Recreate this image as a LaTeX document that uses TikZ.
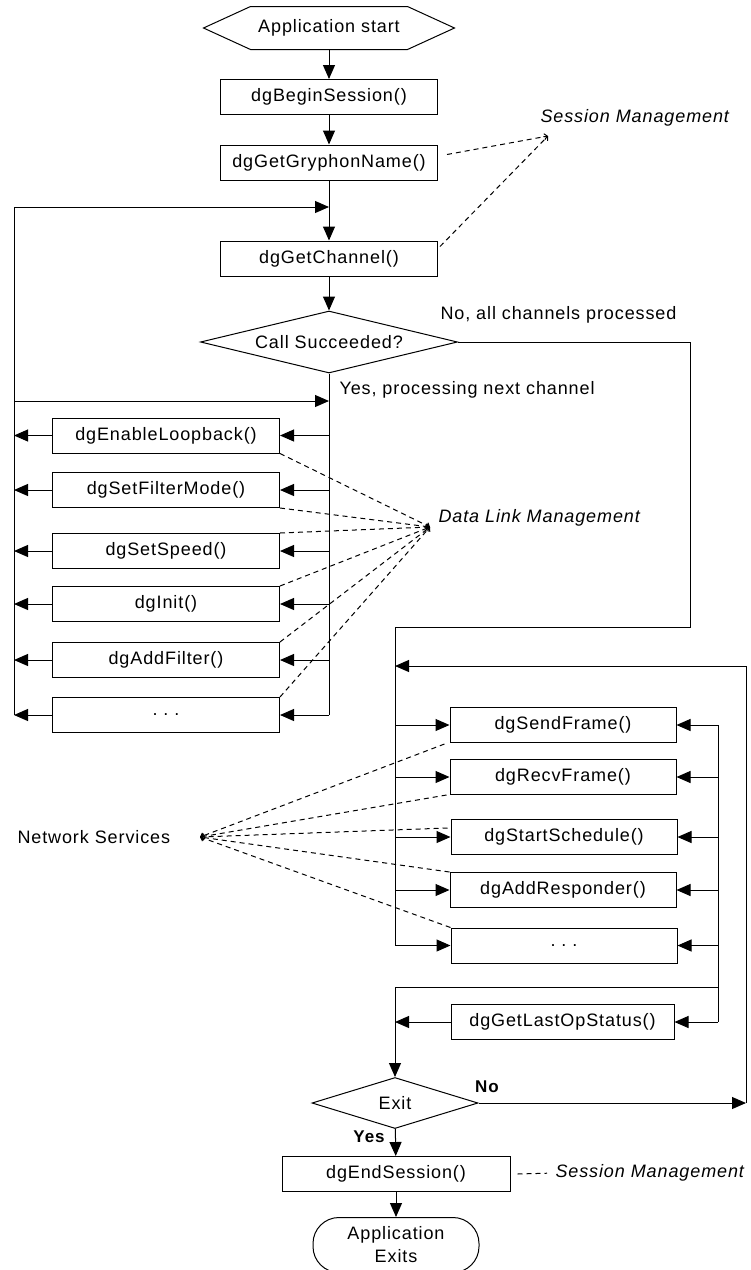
\documentclass[tikz,border=0pt]{standalone}
\usepackage{fontspec}
\setmainfont{Liberation Sans}[LetterSpace=5]
\usetikzlibrary{arrows.meta,positioning,shapes.geometric,calc}

\begin{document}
\begin{tikzpicture}[x=1pt, y=-1pt, line width=1pt,
  font=\fontsize{18}{21}\selectfont,
  box/.style={draw, minimum width=217pt, minimum height=35pt, inner sep=0pt},
  sbox/.style={box, minimum width=227pt},
  dec/.style={draw, diamond, aspect=4, inner sep=0pt},
  ar/.style={-{Triangle[length=14pt, width=12pt]}},
  note/.style={dash pattern=on 5pt off 4pt},
  notear/.style={note, -{Straight Barb[length=3pt, width=6pt]}},
  lbl/.style={inner sep=0pt, anchor=west},
  yn/.style={inner sep=0pt, font=\fontsize{17}{19}\selectfont\bfseries}]

\useasboundingbox (0,0) rectangle (751,1270);

\node[minimum width=156pt, minimum height=42pt, inner sep=0pt] (start) at (329,28) {Application start};
\draw (start.north west) -- (start.north east) -- ($(start.east)+(47,0)$) -- (start.south east)
  -- (start.south west) -- ($(start.west)+(-47,0)$) -- cycle;
\node[box] (begin) at (329,97) {dgBeginSession()};
\node[box] (gryph) at (329,162.5) {dgGetGryphonName()};
\node[box] (chan) at (329,258.5) {dgGetChannel()};
\node[dec, minimum width=257pt, minimum height=62pt] (succ) at (329,342) {Call Succeeded?};

\node[sbox] (loopb) at (166,435.5) {dgEnableLoopback()};
\node[sbox] (fmode) at (166,490) {dgSetFilterMode()};
\node[sbox] (speed) at (166,551) {dgSetSpeed()};
\node[sbox] (init) at (166,604) {dgInit()};
\node[sbox] (addf) at (166,660) {dgAddFilter()};
\node[sbox] (more1) at (166,715) {.~.~.};

\node[sbox, minimum width=226pt] (send) at (563,725) {dgSendFrame()};
\node[sbox, minimum width=226pt] (recv) at (563,777) {dgRecvFrame()};
\node[sbox, minimum width=226pt] (sched) at (564,837) {dgStartSchedule()};
\node[sbox, minimum width=226pt] (resp) at (563,890) {dgAddResponder()};
\node[sbox, minimum width=226pt] (more2) at (564,945.5) {.~.~.};
\node[box, minimum width=223pt] (last) at (562.5,1022) {dgGetLastOpStatus()};

\node[dec, minimum width=166pt, minimum height=51pt] (exit) at (395,1103) {Exit};
\node[box, minimum width=228pt] (endses) at (396,1174) {dgEndSession()};
\node[draw, rounded corners=26pt, minimum width=166pt, minimum height=55pt, inner sep=0pt,
  align=center, font=\fontsize{18}{23}\selectfont] (apex) at (396,1245) {Application\\Exits};

\node[lbl] (smtop) at (540,118) {\itshape Session Management};
\node[lbl] (nop) at (440,315) {No, all channels processed};
\node[lbl] (yesp) at (339,390) {Yes, processing next channel};
\node[lbl] (dlm) at (438,518) {\itshape Data Link Management};
\node[lbl] (ns) at (17,837) {Network Services};
\node[lbl] (smbot) at (555,1173) {\itshape Session Management};
\node[yn] (no) at (487,1087) {No};
\node[yn] (yes) at (369,1137) {Yes};

\coordinate (lt) at (14,207);
\coordinate (ly) at (14,401);
\coordinate (nc) at (690,627);
\coordinate (nbus) at (395,627);
\coordinate (rbus) at (718,987);
\coordinate (jn) at (395,987);
\coordinate (rt) at (746,666);
\coordinate (smtip) at (548,136);
\coordinate (dltip) at (430,527);
\coordinate (nstip) at (200,837);

\draw[ar] (start) -- (begin);
\draw[ar] (begin) -- (gryph);
\draw[ar] (gryph) -- (chan);
\draw[ar] (chan) -- (succ);

\draw (lt |- more1) -- (lt);
\draw[ar] (lt) -- (lt -| chan.south);
\draw[ar] (ly) -- (ly -| succ.south);
\draw (succ.south) -- (succ.south |- more1);
\draw[ar] (loopb.east -| succ.south) -- (loopb);
\draw[ar] (fmode.east -| succ.south) -- (fmode);
\draw[ar] (speed.east -| succ.south) -- (speed);
\draw[ar] (init.east -| succ.south) -- (init);
\draw[ar] (addf.east -| succ.south) -- (addf);
\draw[ar] (more1.east -| succ.south) -- (more1);
\draw[ar] (loopb) -- (loopb -| lt);
\draw[ar] (fmode) -- (fmode -| lt);
\draw[ar] (speed) -- (speed -| lt);
\draw[ar] (init) -- (init -| lt);
\draw[ar] (addf) -- (addf -| lt);
\draw[ar] (more1) -- (more1 -| lt);

\draw (succ.east) -- (succ.east -| nc) -- (nc) -- (nbus) -- (nbus |- more2);
\draw[ar] (nbus |- send) -- (send);
\draw[ar] (nbus |- recv) -- (recv);
\draw[ar] (nbus |- sched) -- (sched);
\draw[ar] (nbus |- resp) -- (resp);
\draw[ar] (nbus |- more2) -- (more2);
\draw (rbus |- send) -- (rbus |- last);
\draw[ar] (rbus |- send) -- (send);
\draw[ar] (rbus |- recv) -- (recv);
\draw[ar] (rbus |- sched) -- (sched);
\draw[ar] (rbus |- resp) -- (resp);
\draw[ar] (rbus |- more2) -- (more2);
\draw[ar] (rbus |- last) -- (last);
\draw (rbus) -- (jn);
\draw[ar] (last) -- (last -| jn);
\draw[ar] (jn) -- (exit);

\draw[ar] (exit) -- (exit -| rt);
\draw[ar] (exit -| rt) -- (rt) -- (rt -| nbus);
\draw[ar] (exit) -- (endses);
\draw[ar] (endses) -- (apex);

\draw[notear] ($(gryph.east)+(9,-8)$) -- (smtip);
\draw[notear] ($(chan.north east)+(2,6)$) -- (smtip);
\draw[note, shorten >=8pt] ($(endses.east)+(7,0)$) -- (smbot.west);

\draw[notear] (loopb.south east) -- (dltip);
\draw[notear] (fmode.south east) -- (dltip);
\draw[notear] (speed.north east) -- (dltip);
\draw[notear] (init.north east) -- (dltip);
\draw[notear] (addf.north east) -- (dltip);
\draw[notear] (more1.north east) -- (dltip);

\draw[notear] ($(send.south west)+(-5,1)$) -- (nstip);
\draw[notear] ($(recv.south west)+(-3,0)$) -- (nstip);
\draw[notear] ($(sched.west)+(-3,-9)$) -- (nstip);
\draw[notear] (resp.north west) -- (nstip);
\draw[notear] (more2.north west) -- (nstip);
\end{tikzpicture}
\end{document}
